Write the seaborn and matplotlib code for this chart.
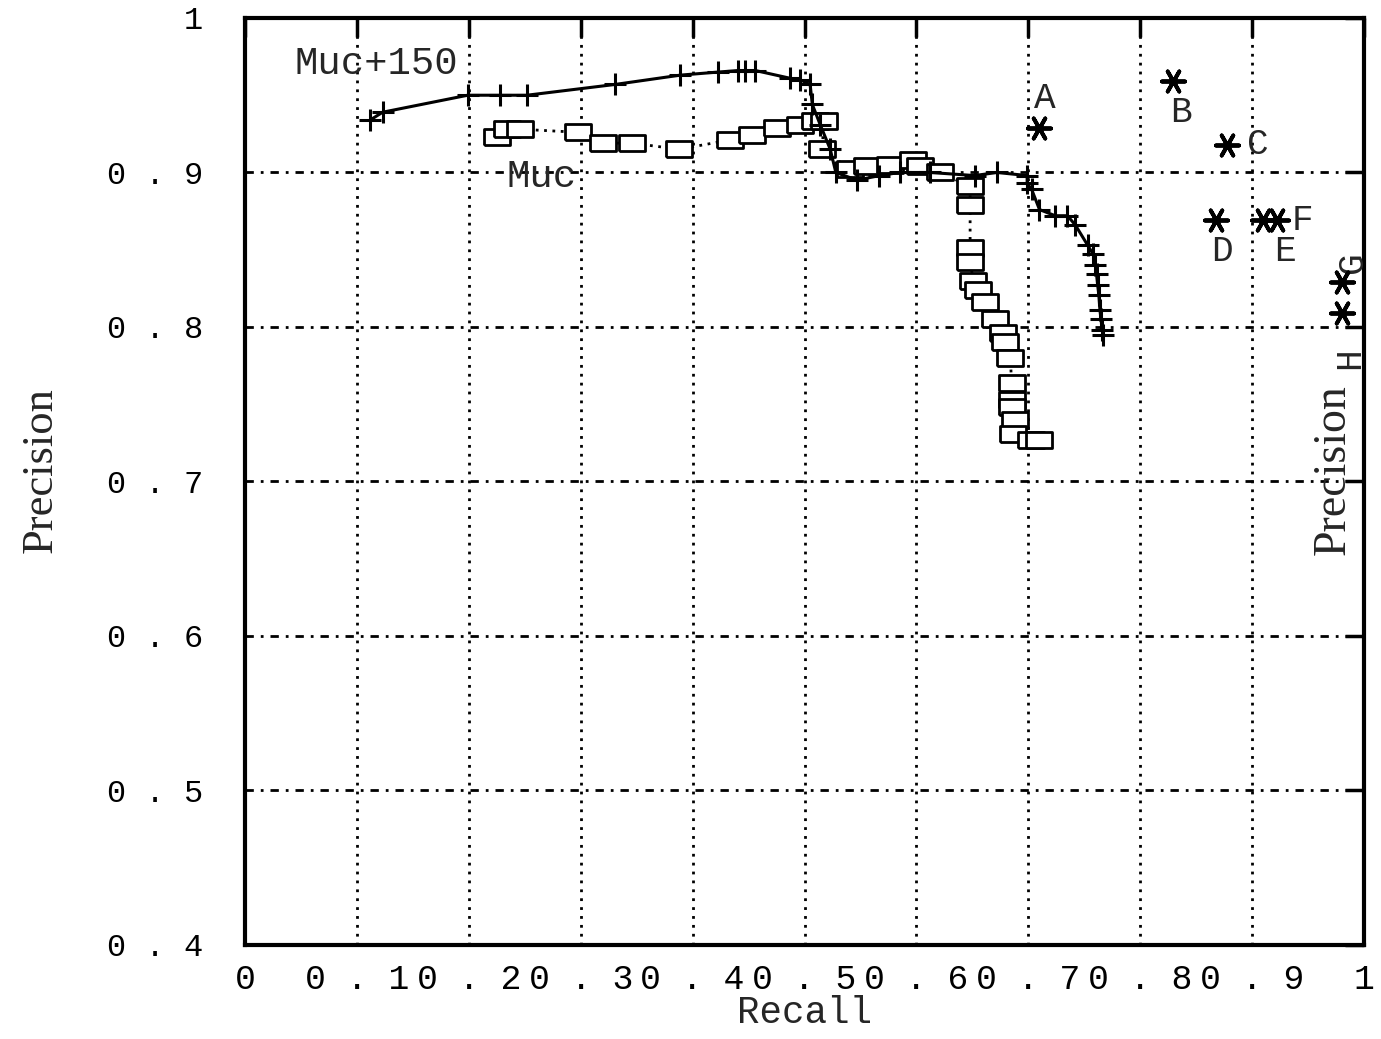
import numpy as np
import matplotlib
matplotlib.use('Agg')
import matplotlib.pyplot as plt
import seaborn as sns

# Muc+150 curve (solid line, + markers)
muc150_recall = [0.112, 0.123, 0.199, 0.228, 0.252, 0.331, 0.389, 0.423, 0.441, 0.447,
                 0.456, 0.487, 0.496, 0.505, 0.507, 0.514, 0.523, 0.528, 0.547, 0.567,
                 0.585, 0.612, 0.652, 0.672, 0.699, 0.699, 0.703, 0.710, 0.724, 0.735,
                 0.742, 0.753, 0.758, 0.760, 0.761, 0.762, 0.763, 0.764, 0.765, 0.766, 0.767]
muc150_precision = [0.934, 0.939, 0.950, 0.950, 0.950, 0.957, 0.963, 0.965, 0.966, 0.966,
                    0.966, 0.961, 0.960, 0.957, 0.944, 0.931, 0.915, 0.900, 0.895, 0.898,
                    0.900, 0.900, 0.898, 0.900, 0.898, 0.893, 0.889, 0.876, 0.872, 0.872,
                    0.866, 0.853, 0.847, 0.840, 0.834, 0.827, 0.821, 0.811, 0.805, 0.798, 0.795]

# Muc curve (dotted line, box markers)
muc_recall = [0.225, 0.234, 0.246, 0.298, 0.320, 0.346, 0.388, 0.433, 0.453, 0.475,
              0.496, 0.509, 0.517, 0.516, 0.541, 0.556, 0.576, 0.597, 0.603, 0.621,
              0.648, 0.648, 0.648, 0.648, 0.651, 0.655, 0.661, 0.670, 0.677, 0.679,
              0.684, 0.685, 0.685, 0.685, 0.688, 0.686, 0.702, 0.710]
muc_precision = [0.923, 0.928, 0.928, 0.926, 0.919, 0.919, 0.915, 0.921, 0.924, 0.929,
                 0.931, 0.933, 0.933, 0.915, 0.902, 0.904, 0.905, 0.908, 0.904, 0.900,
                 0.891, 0.879, 0.851, 0.842, 0.830, 0.824, 0.816, 0.805, 0.796, 0.790,
                 0.780, 0.764, 0.753, 0.748, 0.740, 0.731, 0.727, 0.727]

# other systems (stars)
sys_names = ["A", "B", "C", "D", "E", "F", "G", "H"]
sys_recall = [0.710, 0.829, 0.878, 0.868, 0.910, 0.922, 0.980, 0.980]
sys_precision = [0.929, 0.959, 0.918, 0.869, 0.869, 0.869, 0.829, 0.809]

x_ticks = [0, 0.1, 0.2, 0.3, 0.4, 0.5, 0.6, 0.7, 0.8, 0.9, 1.0]
x_tick_labels = ["0", "0 . 1", "0 . 2", "0 . 3", "0 . 4", "0 . 5", "0 . 6", "0 . 7", "0 . 8", "0 . 9", "1"]
y_ticks = [0.4, 0.5, 0.6, 0.7, 0.8, 0.9, 1.0]
y_tick_labels = ["0 . 4", "0 . 5", "0 . 6", "0 . 7", "0 . 8", "0 . 9", "1"]

sns.set_style("white")
plt.rcParams['font.family'] = ['Liberation Mono', 'DejaVu Sans']
MONO = 'Liberation Mono'
SERIF = 'Liberation Serif'

fig = plt.figure(figsize=(13.81, 10.39), dpi=100)
ax = fig.add_axes([0.1774, 0.0905, 0.8103, 0.8922])

box = [(-1.6, -1), (1.6, -1), (1.6, 1), (-1.6, 1), (-1.6, -1)]

sns.lineplot(x=muc_recall, y=muc_precision, ax=ax, sort=False, estimator=None,
             color='black', linewidth=2, linestyle=(0, (1, 2)),
             marker=box, markersize=19, markerfacecolor='white',
             markeredgecolor='black', markeredgewidth=2)
sns.lineplot(x=muc150_recall, y=muc150_precision, ax=ax, sort=False, estimator=None,
             color='black', linewidth=2.2, marker='+', markersize=16,
             markeredgecolor='black', markeredgewidth=2.2)
sns.scatterplot(x=sys_recall, y=sys_precision, ax=ax, marker=(6, 2, 90), s=280,
                color='black', linewidth=2.8, zorder=5)

# curve labels
ax.text(0.117, 0.970, "Muc+150", fontsize=28, family=MONO, ha='center', va='center')
ax.text(0.265, 0.897, "Muc", fontsize=28, family=MONO, ha='center', va='center')

# star labels
lbl_pos = {"A": (0.715, 0.948, 0), "B": (0.836, 0.939, 0), "C": (0.905, 0.918, 0),
           "D": (0.873, 0.849, 0), "E": (0.929, 0.849, 0), "F": (0.945, 0.869, 0),
           "G": (0.990, 0.842, 90), "H": (0.987, 0.780, 90)}
for name in sys_names:
    lx, ly, rot = lbl_pos[name]
    ax.text(lx, ly, name, fontsize=26, family=MONO, ha='center', va='center', rotation=rot)

# stray label on the right edge
ax.text(0.973, 0.708, "Precision", fontsize=33, family=SERIF, rotation=90,
        ha='center', va='center')

ax.set_xlim(0, 1)
ax.set_ylim(0.4, 1)
ax.set_xticks(x_ticks)
ax.set_xticklabels(x_tick_labels, fontsize=25, family=MONO)
ax.set_yticks(y_ticks)
ax.set_yticklabels(y_tick_labels, fontsize=23, family=MONO)

ax.grid(False)
for xv in x_ticks[1:-1]:
    ax.axvline(xv, color='black', linewidth=2, linestyle=(0, (1, 2.2)), zorder=0)
for yv in y_ticks[1:-1]:
    ax.axhline(yv, color='black', linewidth=2, linestyle=(0, (3, 2.5, 1, 2.5)), zorder=0)

ax.tick_params(axis='both', direction='in', length=14, width=2.5,
               top=True, right=True, colors='black')
ax.tick_params(axis='x', pad=13)
ax.tick_params(axis='y', pad=30)
for sp in ax.spines.values():
    sp.set_linewidth(3)
    sp.set_color('black')

ax.set_xlabel("Recall", fontsize=27, family=MONO)
ax.set_ylabel("Precision", fontsize=32, family=SERIF)
ax.xaxis.set_label_coords(0.5, -0.054)
ax.yaxis.set_label_coords(-0.165, 0.512)

fig.savefig("out.png", dpi=100)
